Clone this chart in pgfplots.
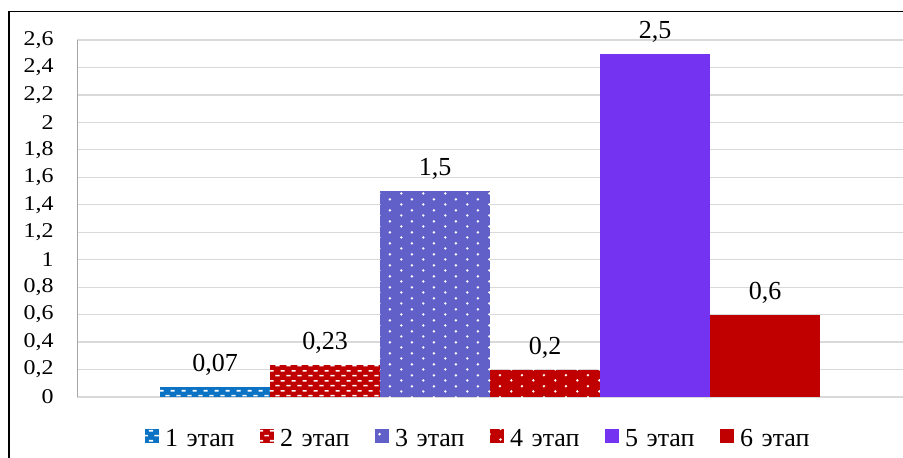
\documentclass[border=0pt]{standalone}
\usepackage{fontspec}
\setmainfont{Liberation Serif}
\newfontfamily\tickfamily{Liberation Serif}[FakeStretch=1.14]
\usepackage{pgfplots}
\pgfplotsset{compat=1.18}
\usetikzlibrary{patterns}
\newcommand{\tf}{\tickfamily\fontsize{21bp}{24bp}\selectfont}
\newcommand{\lf}{\fontsize{26bp}{30bp}\selectfont}
\pgfdeclarepatternformonly{dashbrick}{\pgfqpoint{0bp}{0bp}}{\pgfqpoint{11bp}{10bp}}{\pgfqpoint{11bp}{10bp}}{%
  \pgfpathrectangle{\pgfqpoint{0.5bp}{1.8bp}}{\pgfqpoint{4.5bp}{1.6bp}}%
  \pgfpathrectangle{\pgfqpoint{6bp}{6.8bp}}{\pgfqpoint{4.5bp}{1.6bp}}%
  \pgfusepath{fill}}
\pgfdeclarepatternformonly{dotbrick}{\pgfqpoint{0bp}{0bp}}{\pgfqpoint{22bp}{10.6bp}}{\pgfqpoint{22bp}{10.6bp}}{%
  \pgfpathcircle{\pgfqpoint{5.5bp}{2.65bp}}{1.4bp}%
  \pgfpathcircle{\pgfqpoint{16.5bp}{7.95bp}}{1.4bp}%
  \pgfusepath{fill}}
\definecolor{c1}{HTML}{0B72C4}
\definecolor{c2}{HTML}{C00000}
\definecolor{c3}{HTML}{6060C8}
\definecolor{c5}{HTML}{7433F0}
\definecolor{gridc}{HTML}{D9D9D9}
\definecolor{axc}{HTML}{A6A6A6}
\begin{document}
\begin{tikzpicture}
\useasboundingbox (0,0) rectangle (903bp,-458bp);
\draw[line width=1.5bp] (9bp,-470bp) -- (9bp,-11.5bp) -- (910bp,-11.5bp);
\begin{axis}[
  at={(77bp,-397bp)}, anchor=south west,
  scale only axis, width=826bp, height=357bp,
  ybar=0pt, bar width=110bp,
  xmin=-1, xmax=1, ymin=0, ymax=2.6,
  xtick=\empty,
  ytick={0,0.2,0.4,0.6,0.8,1,1.2,1.4,1.6,1.8,2,2.2,2.4,2.6},
  yticklabels={0,{0,2},{0,4},{0,6},{0,8},1,{1,2},{1,4},{1,6},{1,8},2,{2,2},{2,4},{2,6}},
  yticklabel style={anchor=east, xshift=-20bp, font=\tf},
  major tick length=0pt,
  axis x line=none,
  axis y line=left,
  y axis line style={-, draw=axc, line width=1bp},
  ymajorgrids, major grid style={draw=gridc, line width=1.2bp},
  point meta=explicit symbolic,
  nodes near coords,
  every node near coord/.append style={font=\lf, yshift=8bp},
  legend columns=6,
  legend style={at={(0.5,-0.117)}, anchor=center, draw=none, fill=none, font=\lf,
    /tikz/column sep=0pt,
    nodes={text width=89bp, inner xsep=6bp, inner ysep=0bp, align=left, anchor=west, font=\lf}},
  legend image code/.code={\draw[#1, draw=none] (0bp,-4bp) rectangle (14bp,10bp);},
]
\addplot[fill=c1, draw=none, postaction={pattern=dashbrick, pattern color=white}] coordinates {(0,0.07) [0,07]};
\addplot[fill=c2, draw=none, postaction={pattern=dashbrick, pattern color=white}] coordinates {(0,0.23) [0,23]};
\addplot[fill=c3, draw=none, postaction={pattern=dotbrick, pattern color=white}] coordinates {(0,1.5) [1,5]};
\addplot[fill=c2, draw=none, postaction={pattern=dotbrick, pattern color=white}] coordinates {(0,0.2) [0,2]};
\addplot[fill=c5, draw=none] coordinates {(0,2.5) [2,5]};
\addplot[fill=c2, draw=none] coordinates {(0,0.6) [0,6]};
\legend{1 этап, 2 этап, 3 этап, 4 этап, 5 этап, 6 этап}
\end{axis}
\end{tikzpicture}
\end{document}
